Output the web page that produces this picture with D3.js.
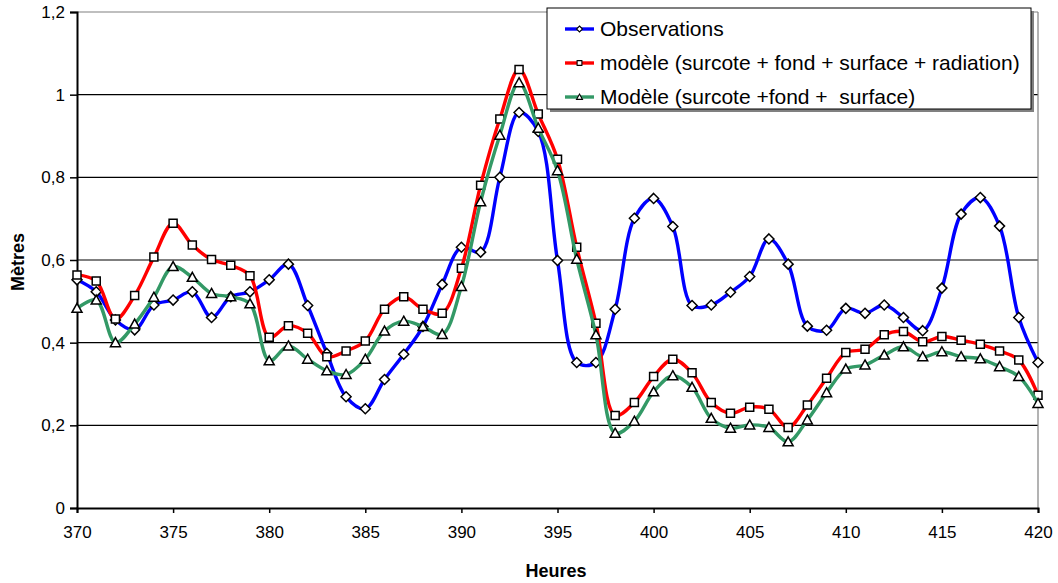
<!DOCTYPE html>
<html><head><meta charset="utf-8">
<script src="https://cdn.jsdelivr.net/npm/d3@7"></script>
<style>
body{margin:0;background:#fff;}
svg text{font-family:"Liberation Sans",Arial,sans-serif;}
</style></head>
<body><svg id="c" width="1058" height="583"></svg>
<script>
const hours = d3.range(370, 421);
const observations = [0.552,0.523,0.455,0.431,0.491,0.503,0.523,0.461,0.511,0.523,
  0.552,0.590,0.490,0.374,0.269,0.240,0.311,0.372,0.439,0.541,
  0.631,0.619,0.800,0.957,0.911,0.599,0.352,0.352,0.481,0.701,
  0.749,0.681,0.490,0.491,0.522,0.560,0.651,0.590,0.440,0.430,
  0.483,0.471,0.491,0.461,0.429,0.532,0.711,0.751,0.682,0.461,0.352];
const modeleRadiation = [0.564,0.549,0.457,0.514,0.607,0.689,0.636,0.601,0.587,0.562,
  0.413,0.441,0.423,0.366,0.380,0.404,0.481,0.511,0.481,0.471,
  0.580,0.781,0.941,1.061,0.953,0.844,0.631,0.447,0.224,0.255,
  0.318,0.360,0.327,0.255,0.229,0.244,0.239,0.195,0.249,0.314,
  0.376,0.384,0.419,0.427,0.402,0.415,0.406,0.396,0.380,0.358,0.273];
const modeleSurface = [0.483,0.503,0.400,0.445,0.510,0.584,0.558,0.519,0.511,0.494,
  0.356,0.392,0.360,0.332,0.323,0.360,0.428,0.452,0.439,0.420,
  0.536,0.741,0.902,1.029,0.919,0.816,0.602,0.419,0.181,0.210,
  0.281,0.320,0.292,0.217,0.193,0.201,0.195,0.160,0.213,0.279,
  0.336,0.346,0.370,0.390,0.366,0.378,0.366,0.361,0.342,0.318,0.253];
const seriesNames = ["Observations","modèle (surcote + fond + surface + radiation)","Modèle (surcote +fond +  surface)"];
const seriesColors = ["#0000ff","#ff0000","#339966"];
const seriesMarkers = ["diamond","square","triangle"];
const xTicks = [370,375,380,385,390,395,400,405,410,415,420];
const yTicks = [0,0.2,0.4,0.6,0.8,1,1.2];

const svg = d3.select("#c");
const L=77,R=1038,T=12,B=508;
const x = d3.scaleLinear().domain([370,420]).range([L,R]);
const y = d3.scaleLinear().domain([0,1.2]).range([B,T]);
const fmt = v => String(v).replace(".", ",");

// grid
svg.append("g").selectAll("line").data(yTicks.filter(v=>v>0 && v<1.2)).join("line")
  .attr("x1",L).attr("x2",R).attr("y1",d=>y(d)).attr("y2",d=>y(d))
  .attr("stroke","#000").attr("stroke-width",1.2);
svg.append("line").attr("x1",L).attr("x2",R).attr("y1",y(1.2)).attr("y2",y(1.2)).attr("stroke","#808080").attr("stroke-width",1.2);
svg.append("line").attr("x1",R).attr("x2",R).attr("y1",T).attr("y2",B).attr("stroke","#808080").attr("stroke-width",1.2);

// axes
const yAxis = svg.append("g").attr("transform",`translate(${L},0)`)
  .call(d3.axisLeft(y).tickValues(yTicks).tickFormat(fmt).tickSize(7).tickPadding(5));
const xAxis = svg.append("g").attr("transform",`translate(0,${B})`)
  .call(d3.axisBottom(x).tickValues(xTicks).tickFormat(d=>d).tickSize(5).tickPadding(13));
[yAxis,xAxis].forEach(g=>{
  g.select(".domain").attr("stroke","#000").attr("stroke-width",2);
  g.selectAll(".tick line").attr("stroke","#000").attr("stroke-width",1.5);
  g.selectAll("text").attr("font-size",17).attr("fill","#000").attr("font-family","Liberation Sans, Arial, sans-serif");
});

// titles
svg.append("text").attr("x",556).attr("y",577).attr("text-anchor","middle")
  .attr("font-size",18).attr("font-weight","bold").text("Heures");
svg.append("text").attr("transform","translate(24,262) rotate(-90)").attr("text-anchor","middle")
  .attr("font-size",18).attr("font-weight","bold").text("Mètres");

function markerPath(type){
  if(type==="diamond") return "M0,-5L5,0L0,5L-5,0Z";
  if(type==="square") return "M-4,-4H4V4H-4Z";
  return "M0,-5L5,4H-5Z";
}

const allData = [observations, modeleRadiation, modeleSurface];
const line = d3.line().x((d,i)=>x(hours[i])).y(d=>y(d)).curve(d3.curveCatmullRom.alpha(0.5));
allData.forEach((vals,si)=>{
  const g = svg.append("g");
  g.append("path").attr("d",line(vals)).attr("fill","none")
    .attr("stroke",seriesColors[si]).attr("stroke-width",3.4).attr("stroke-linejoin","round");
  g.selectAll("path.m").data(vals).join("path").attr("class","m")
    .attr("transform",(d,i)=>`translate(${x(hours[i])},${y(d)})`)
    .attr("d",markerPath(seriesMarkers[si]))
    .attr("fill","#fff").attr("stroke","#000").attr("stroke-width",1.5);
});

// legend
const lg = svg.append("g");
lg.append("rect").attr("x",550).attr("y",11).attr("width",484).attr("height",101).attr("fill","#808080");
lg.append("rect").attr("x",547).attr("y",8).attr("width",484).attr("height",101)
  .attr("fill","#fff").attr("stroke","#000").attr("stroke-width",1);
const rowsY=[29,63,97];
seriesNames.forEach((n,i)=>{
  lg.append("line").attr("x1",565).attr("x2",594).attr("y1",rowsY[i]).attr("y2",rowsY[i])
    .attr("stroke",seriesColors[i]).attr("stroke-width",3.4);
  lg.append("path").attr("transform",`translate(579.5,${rowsY[i]}) scale(0.6)`)
    .attr("d",markerPath(seriesMarkers[i])).attr("fill","#fff").attr("stroke","#000").attr("stroke-width",1.8);
  lg.append("text").attr("x",600).attr("y",rowsY[i]+7).attr("font-size",21)
    .style("white-space","pre").attr("xml:space","preserve").text(n);
});
</script></body></html>
